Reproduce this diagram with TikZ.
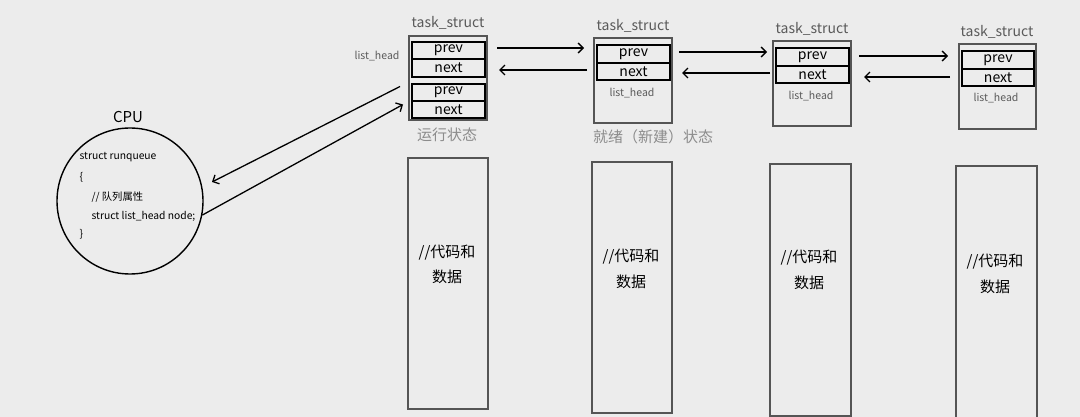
\documentclass[tikz,border=0pt]{standalone}
\usepackage{fontspec}
\setmainfont{Noto Sans CJK SC}
\usetikzlibrary{arrows.meta,calc}
\definecolor{bg}{RGB}{236,236,236}
\definecolor{boxgray}{RGB}{85,85,85}
\definecolor{labgray}{RGB}{90,90,90}
\definecolor{stategray}{RGB}{140,140,140}
\newcommand{\fs}[1]{\fontsize{#1}{#1}\selectfont}
\tikzset{
  outerbox/.style={draw=boxgray, line width=2pt, anchor=north west, inner sep=0pt},
  cellbox/.style={draw=black, line width=2pt, anchor=north west, inner sep=0pt, font=\fs{14}, text=black},
  databox/.style={draw=boxgray, line width=2pt, anchor=north west, inner sep=0pt},
  datatext/.style={align=center, font=\fs{15}, text=black, inner sep=0pt},
  tlabel/.style={font=\fs{14}, text=labgray},
  lhlabel/.style={font=\fs{10.5}, text=labgray},
  statelabel/.style={font=\fs{15}, text=stategray},
  arr/.style={line width=1.3pt, -{Straight Barb[length=5pt,width=10pt,line width=1.3pt]}},
  codetext/.style={font=\fs{10.3}, anchor=west, text=black}
}
\begin{document}
\begin{tikzpicture}[x=1pt,y=-1pt]
\fill[bg] (0,0) rectangle (1080,417);
\useasboundingbox (0,0) rectangle (1080,417);

% ---- task_struct 1
\node[tlabel] (ts1) at (448,23) {task\_struct};
\node[outerbox, minimum width=78, minimum height=84] (t1) at (408,35) {};
\node[cellbox, minimum width=73, minimum height=17] (p1) at (411,41) {prev};
\node[cellbox, minimum width=73, minimum height=18] (n1) at (411,58) {next};
\node[cellbox, minimum width=73, minimum height=17] (p1b) at (411,83) {prev};
\node[cellbox, minimum width=73, minimum height=17] (n1b) at (411,100) {next};
\node[lhlabel] (lh1) at (377,56) {list\_head};
\node[statelabel] (s1) at (447,135) {运行状态};

% ---- task_struct 2
\node[tlabel] (ts2) at (633,26) {task\_struct};
\node[outerbox, minimum width=78, minimum height=85] (t2) at (593,37) {};
\node[cellbox, minimum width=73, minimum height=18] (p2) at (596,44) {prev};
\node[cellbox, minimum width=73, minimum height=17] (n2) at (596,62) {next};
\node[lhlabel] (lh2) at (632,93) {list\_head};
\node[statelabel] (s2) at (653,137) {就绪（新建）状态};

% ---- task_struct 3
\node[tlabel] (ts3) at (812,29) {task\_struct};
\node[outerbox, minimum width=78, minimum height=85] (t3) at (772,40) {};
\node[cellbox, minimum width=73, minimum height=18] (p3) at (775,47) {prev};
\node[cellbox, minimum width=73, minimum height=17] (n3) at (775,65) {next};
\node[lhlabel] (lh3) at (811,96) {list\_head};

% ---- task_struct 4
\node[tlabel] (ts4) at (997,32) {task\_struct};
\node[outerbox, minimum width=77, minimum height=85] (t4) at (958,43) {};
\node[cellbox, minimum width=72, minimum height=18] (p4) at (961,50) {prev};
\node[cellbox, minimum width=72, minimum height=17] (n4) at (961,68) {next};
\node[lhlabel] (lh4) at (996,98) {list\_head};

% ---- data boxes
\node[databox, minimum width=80, minimum height=251] (d1) at (407,157) {};
\node[databox, minimum width=80, minimum height=251] (d2) at (591,161) {};
\node[databox, minimum width=81, minimum height=252] (d3) at (769,163) {};
\node[databox, minimum width=81, minimum height=256] (d4) at (955,165) {};
\node[datatext] (dt1a) at (447,253) {//代码和};
\node[datatext] (dt1b) at (447,277) {数据};
\node[datatext] (dt2a) at (631,257) {//代码和};
\node[datatext] (dt2b) at (631,282) {数据};
\node[datatext] (dt3a) at (809,258) {//代码和};
\node[datatext] (dt3b) at (809,283) {数据};
\node[datatext] (dt4a) at (995,262) {//代码和};
\node[datatext] (dt4b) at (995,287) {数据};

% ---- CPU
\node[font=\fs{15}, text=black] (cpulab) at (128,117) {CPU};
\node[draw=black, line width=1.4pt, circle, minimum size=146, inner sep=0pt] (cpu) at (130,201) {};
\node[codetext] (c1) at (76,157) {struct runqueue};
\node[codetext] (c2) at (76,177) {\{};
\node[codetext] (c3) at (88,197) {// 队列属性};
\node[codetext] (c4) at (88,216) {struct list\_head node;};
\node[codetext] (c5) at (76,234) {\}};

% ---- list arrows
\draw[arr] ([xshift=9]t1.east |- 0,48) -- ([xshift=-9]t2.west |- 0,48);
\draw[arr] ([xshift=-6]t2.west |- 0,70) -- ([xshift=11]t1.east |- 0,70);
\draw[arr] ([xshift=6]t2.east |- 0,52) -- ([xshift=-5]t3.west |- 0,52);
\draw[arr] ([xshift=-2]t3.west |- 0,73) -- ([xshift=9]t2.east |- 0,73);
\draw[arr] ([xshift=7]t3.east |- 0,56) -- ([xshift=-10]t4.west |- 0,56);
\draw[arr] ([xshift=-8]t4.west |- 0,77) -- ([xshift=12]t3.east |- 0,77);

% ---- CPU arrows
\draw[arr] ([shift={(-11,-6)}]p1b.west) -- ([shift={(82,-19)}]cpu.center);
\draw[arr] (cpu.-11) -- ([shift={(-8,-5)}]n1b.west);
\end{tikzpicture}
\end{document}
